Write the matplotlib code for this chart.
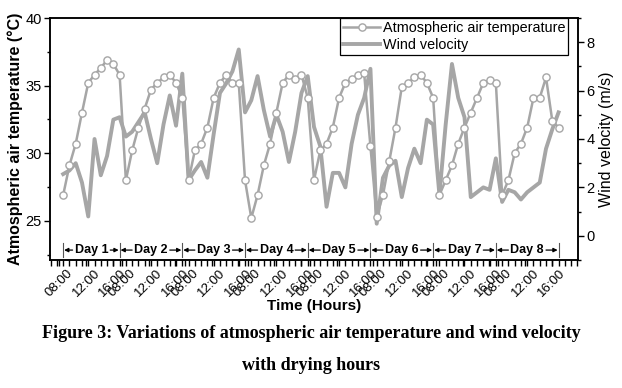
import numpy as np
import matplotlib
matplotlib.use("Agg")
import matplotlib.pyplot as plt
from matplotlib.ticker import MultipleLocator, FixedLocator
from matplotlib.lines import Line2D
import matplotlib.transforms as mtransforms

plt.rcParams['font.family'] = ['Liberation Sans', 'DejaVu Sans']

# =========================
# Data (10 readings per day, 8 days)
# =========================
days = ['Day 1', 'Day 2', 'Day 3', 'Day 4', 'Day 5', 'Day 6', 'Day 7', 'Day 8']
hour_labels = ['08:00', '12:00', '16:00']

air_temp = [
    26.9, 29.1, 30.7, 33.0, 35.2, 35.8, 36.3, 36.9, 36.6, 35.8,
    28.0, 30.2, 31.9, 33.3, 34.7, 35.2, 35.6, 35.8, 35.2, 34.1,
    28.0, 30.2, 30.7, 31.9, 34.1, 35.2, 35.8, 35.2, 35.2, 28.0,
    25.2, 26.9, 29.1, 30.7, 33.0, 35.2, 35.8, 35.5, 35.8, 34.1,
    28.0, 30.2, 30.7, 31.9, 34.1, 35.2, 35.5, 35.8, 35.9, 30.5,
    25.3, 26.9, 29.4, 31.9, 34.9, 35.2, 35.6, 35.8, 35.2, 34.1,
    26.9, 28.0, 29.1, 30.7, 31.9, 33.0, 34.1, 35.2, 35.4, 35.2,
    26.9, 28.0, 30.0, 30.7, 31.9, 34.1, 34.1, 35.6, 32.4, 31.9,
]

wind_velocity = [
    2.55, 2.7, 3.0, 2.2, 0.8, 4.0, 2.5, 3.3, 4.8, 4.9,
    4.1, 4.3, 4.7, 5.1, 4.0, 3.0, 4.6, 5.8, 4.55, 6.7,
    2.3, 2.7, 3.05, 2.4, 4.2, 5.9, 6.3, 6.8, 7.7, 5.1,
    5.6, 6.6, 5.2, 4.1, 5.0, 4.3, 3.05, 4.3, 5.9, 6.6,
    4.5, 3.7, 1.2, 2.6, 2.6, 2.0, 3.8, 5.0, 5.7, 6.9,
    0.5, 2.4, 2.9, 3.1, 1.6, 2.8, 3.6, 3.0, 4.8, 4.6,
    1.7, 4.6, 7.1, 5.7, 4.9, 1.6, 1.8, 2.0, 1.9, 3.2,
    1.4, 1.9, 1.8, 1.5, 1.8, 2.0, 2.2, 3.6, 4.4, 5.1,
]

x = np.arange(len(air_temp))
grey = '#a6a6a6'

# =========================
# Figure
# =========================
fig = plt.figure(figsize=(6.22, 3.88), dpi=100)
ax = fig.add_axes([50/622, 1 - 260/388, 528/622, 242/388])
ax2 = ax.twinx()

# temperature axis drawn on top of wind axis
ax.set_zorder(ax2.get_zorder() + 1)
ax.patch.set_visible(False)

ax2.plot(x, wind_velocity, color=grey, lw=2.8, solid_joinstyle='round')
ax.plot(x, air_temp, color=grey, lw=1.8, marker='o', markersize=5.2,
        markerfacecolor='white', markeredgecolor=grey, markeredgewidth=1.0)

ax.set_xlim(-2.1, 82.1)
ax.set_ylim(22.1, 40)
ax2.set_ylim(-1.0, 9.0)

# x ticks
pos, labs = [], []
for d in range(len(days)):
    for off, lab in zip([-0.6, 3.7, 7.9], hour_labels):
        pos.append(d * 10 + off)
        labs.append(lab)
ax.set_xticks(pos)
ax.set_xticklabels(labs, rotation=45, ha='center', fontsize=9.5)
ax.xaxis.set_minor_locator(FixedLocator(np.arange(-2, 83, 1)))
ax.tick_params(axis='x', which='both', direction='out', length=4, width=1, pad=1)

ax.set_yticks([25, 30, 35, 40])
ax.yaxis.set_minor_locator(MultipleLocator(2.5))
ax.tick_params(axis='y', which='major', direction='out', length=4, width=1, labelsize=10.5, pad=2)
ax.tick_params(axis='y', which='minor', direction='out', length=2.5, width=1)

ax2.set_yticks([0, 2, 4, 6, 8])
ax2.yaxis.set_minor_locator(MultipleLocator(1))
ax2.tick_params(axis='y', which='major', direction='out', length=4, width=1, labelsize=10.5, pad=2)
ax2.tick_params(axis='y', which='minor', direction='out', length=2.5, width=1)

for a in (ax, ax2):
    for s in a.spines.values():
        s.set_linewidth(1.1)
        s.set_color('black')

ax.set_xlabel('Time (Hours)', fontsize=11, fontweight='bold', labelpad=0)
ax.set_ylabel('Atmospheric air temperature (°C)', fontsize=11.5, fontweight='bold', labelpad=2)
ax2.set_ylabel('Wind velocity (m/s)', fontsize=11.5, labelpad=3)

# =========================
# Day brackets
# =========================
trans = mtransforms.blended_transform_factory(ax.transData, ax.transAxes)
seps = [0] + [d * 10 + 9 for d in range(len(days))]
for s in seps:
    ax.plot([s, s], [0.012, 0.07], color='#555555', lw=0.8, transform=trans)
for d, name in enumerate(days):
    a, b = seps[d], seps[d + 1]
    mid = (a + b) / 2
    ax.text(mid, 0.041, name, transform=trans, ha='center', va='center',
            fontsize=9, fontweight='bold')
    for start, end in [(mid - 3.0, a + 0.15), (mid + 3.0, b - 0.15)]:
        ax.annotate('', xy=(end, 0.041), xytext=(start, 0.041),
                    xycoords=trans, textcoords=trans,
                    arrowprops=dict(arrowstyle='-|>', color='black', lw=0.9,
                                    mutation_scale=6, shrinkA=0, shrinkB=0))

# =========================
# Legend
# =========================
handles = [
    Line2D([], [], color=grey, lw=1.8, marker='o', markersize=5.2,
           markerfacecolor='white', markeredgecolor=grey),
    Line2D([], [], color=grey, lw=2.8),
]
leg = ax.legend(handles, ['Atmospheric air temperature', 'Wind velocity'],
                loc='upper right', bbox_to_anchor=(0.981, 1.0), fontsize=10.4,
                frameon=True, fancybox=False, framealpha=1, edgecolor='black',
                handlelength=2.6, handletextpad=0.15, borderpad=0.2,
                labelspacing=0.25, borderaxespad=0, markerscale=1, numpoints=1)
leg.get_frame().set_linewidth(0.9)

# =========================
# Caption
# =========================
fig.text(0.5, 1 - 333/388, 'Figure 3: Variations of atmospheric air temperature and wind velocity',
         ha='center', va='center', fontsize=13, fontweight='bold', family='Liberation Serif')
fig.text(0.5, 1 - 365/388, 'with drying hours',
         ha='center', va='center', fontsize=13, fontweight='bold', family='Liberation Serif')

fig.savefig('out.png', dpi=100)
